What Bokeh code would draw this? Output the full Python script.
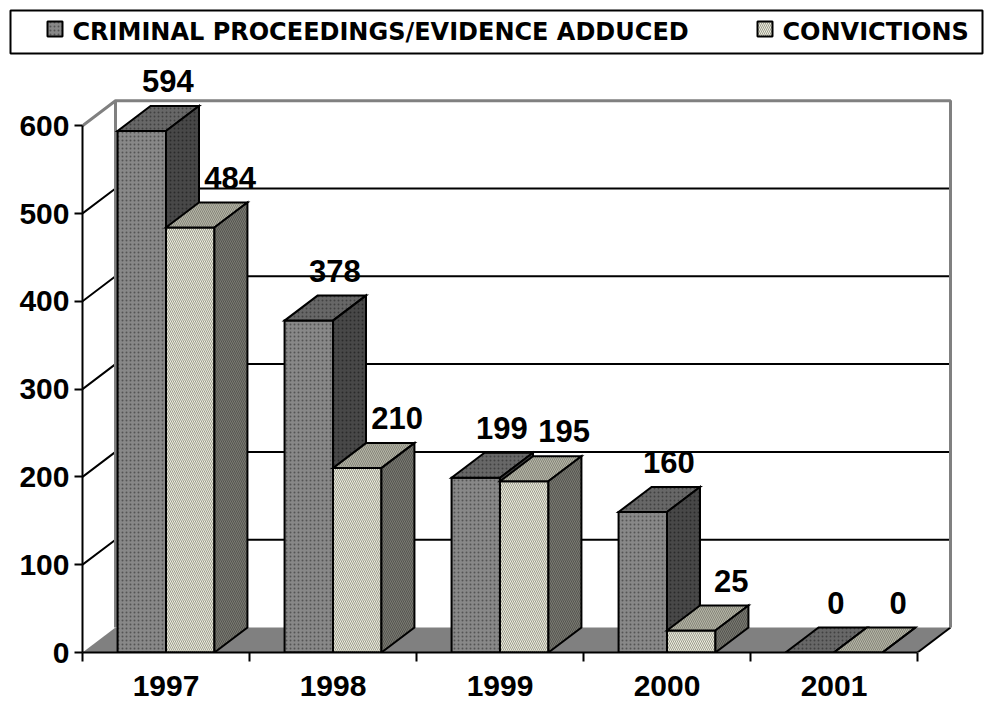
from bokeh.plotting import figure
from bokeh.layouts import column
from bokeh.models import ColumnDataSource, FixedTicker
from bokeh.core.properties import value
from bokeh.embed import file_html
from bokeh.resources import INLINE

# ---------------- data ----------------
years = ["1997", "1998", "1999", "2000", "2001"]
criminal = [594, 378, 199, 160, 0]
convictions = [484, 210, 195, 25, 0]
y_ticks = [0, 100, 200, 300, 400, 500, 600]
series_names = ["CRIMINAL PROCEEDINGS/EVIDENCE ADDUCED", "CONVICTIONS"]

# ---------------- layout constants ----------------
W = 984
LEG_H = 58
MAIN_H = 644
FRAME_W, FRAME_H = 870, 592
PX_PER_CAT = 167.0
PX_PER_UNIT = 0.878
DX = 33 / PX_PER_CAT          # depth offset in category units
DY = 25 / PX_PER_UNIT         # depth offset in value units
BAR_W = 0.29
GAP = 0.21
N = len(years)
Y_MAX = y_ticks[-1]
FONT = "Liberation Sans"
LABEL_LIFT_PX = 25            # gap between bar top and its value label anchor
LABEL_SHIFT_PX = [-7, 7]      # per-series horizontal label shift

styles = [
    dict(front=("#888888", "#545454", "dot"), top=("#676767", "#414141", "dot"),
         side=("#484848", "#2a2a2a", "dot")),
    dict(front=("#ededdf", "#9c9c8e", "left_diagonal_line"),
         top=("#b6b6a6", "#85857a", "left_diagonal_line"),
         side=("#7a7a72", "#555550", "left_diagonal_line")),
]

# ---------------- main chart ----------------
p = figure(width=W, height=MAIN_H, frame_width=FRAME_W, frame_height=FRAME_H,
           x_range=(0, FRAME_W / PX_PER_CAT), y_range=(0, FRAME_H / PX_PER_UNIT),
           output_backend="svg", toolbar_location=None,
           min_border_left=82, min_border_right=W - 82 - FRAME_W,
           min_border_top=2, min_border_bottom=MAIN_H - 2 - FRAME_H)
p.grid.visible = False
p.outline_line_color = None

# floor
p.patch([0, N, N + DX, DX], [0, 0, DY, DY], fill_color="#808080", line_color=None)
p.line([N, N + DX], [0, DY], line_color="black", line_width=2)

# walls / gridlines
grid_xs, grid_ys = [], []
for v in y_ticks[1:-1]:
    grid_xs.append([0, DX, N + DX])
    grid_ys.append([v, v + DY, v + DY])
p.multi_line(grid_xs, grid_ys, line_color="black", line_width=2)
p.multi_line([[0, DX, N + DX, N + DX], [DX, DX]],
             [[Y_MAX, Y_MAX + DY, Y_MAX + DY, DY], [DY, Y_MAX + DY]],
             line_color="#808080", line_width=3)

def faces(vals, s):
    fx, fy, tx, ty, sx, sy = [], [], [], [], [], []
    for c, v in enumerate(vals):
        x0 = c + GAP + s * BAR_W
        x1 = x0 + BAR_W
        fx.append([x0, x1, x1, x0]); fy.append([0, 0, v, v])
        tx.append([x0, x1, x1 + DX, x0 + DX]); ty.append([v, v, v + DY, v + DY])
        sx.append([x1, x1 + DX, x1 + DX, x1]); sy.append([0, DY, v + DY, v])
    return fx, fy, tx, ty, sx, sy

for s, vals in enumerate([criminal, convictions]):
    fx, fy, tx, ty, sx, sy = faces(vals, s)
    st = styles[s]
    for (xs, ys), key in zip([(fx, fy), (tx, ty), (sx, sy)], ["front", "top", "side"]):
        fc, hc, hp = st[key]
        p.patches(xs, ys, fill_color=fc, hatch_pattern=hp, hatch_color=hc,
                  hatch_scale=4, hatch_weight=1, line_color="black", line_width=2,
                  line_join="miter")

# value labels
lx, ly, lt = [], [], []
for s, vals in enumerate([criminal, convictions]):
    for c, v in enumerate(vals):
        lx.append(c + GAP + s * BAR_W + BAR_W / 2 + DX + LABEL_SHIFT_PX[s] / PX_PER_CAT)
        ly.append(v + DY + LABEL_LIFT_PX / PX_PER_UNIT)
        lt.append(str(v))
src = ColumnDataSource(dict(x=lx, y=ly, t=lt))
p.text(x="x", y="y", text="t", source=src, text_font=value(FONT), text_font_style="bold",
       text_font_size="31px", text_align="center", text_baseline="alphabetic",
       text_color="black")

# axes
ya = p.yaxis[0]
ya.ticker = FixedTicker(ticks=y_ticks)
ya.bounds = (0, Y_MAX)
ya.axis_line_width = 2
ya.major_tick_line_width = 2
ya.major_tick_out = 8
ya.major_tick_in = 0
ya.minor_tick_line_color = None
ya.major_label_standoff = 5
ya.major_label_text_font = FONT
ya.major_label_text_font_style = "bold"
ya.major_label_text_font_size = "30px"
ya.major_label_text_color = "black"

xa = p.xaxis[0]
centers = [i + 0.5 for i in range(N)]
xa.ticker = FixedTicker(ticks=centers, minor_ticks=list(range(N + 1)))
xa.major_label_overrides = {c: y for c, y in zip(centers, years)}
xa.bounds = (0, N)
xa.axis_line_width = 2
xa.major_tick_line_color = None
xa.major_tick_out = 0
xa.major_tick_in = 0
xa.minor_tick_line_color = "black"
xa.minor_tick_line_width = 2
xa.minor_tick_out = 9
xa.minor_tick_in = 0
xa.major_label_standoff = 14
xa.major_label_text_font = FONT
xa.major_label_text_font_style = "bold"
xa.major_label_text_font_size = "30px"
xa.major_label_text_color = "black"

# ---------------- legend strip (pixel-space figure) ----------------
lg = figure(width=W, height=LEG_H, x_range=(0, W), y_range=(0, LEG_H),
            output_backend="svg", toolbar_location=None,
            min_border=0, x_axis_type=None, y_axis_type=None)
lg.frame_align = False
lg.grid.visible = False
lg.outline_line_color = None
lg.quad(left=10, right=W - 2, bottom=5, top=48, fill_color=None,
        line_color="black", line_width=2)

ICON_X = [47, 757]
ICON = 15
ICON_BOTTOM = 22
TEXT_GAP = 10
for s in range(2):
    fc, hc, hp = styles[s]["front"]
    lg.quad(left=ICON_X[s], right=ICON_X[s] + ICON, bottom=ICON_BOTTOM,
            top=ICON_BOTTOM + ICON, fill_color=fc, hatch_pattern=hp, hatch_color=hc,
            hatch_scale=4, hatch_weight=1, line_color="black", line_width=2)
lsrc = ColumnDataSource(dict(x=[x + ICON + TEXT_GAP for x in ICON_X],
                             y=[ICON_BOTTOM + 5, ICON_BOTTOM + 5], t=series_names))
lg.text(x="x", y="y", text="t", source=lsrc, text_font=value("DejaVu Sans"),
        text_font_style="bold", text_font_size="24px", text_align="left",
        text_baseline="alphabetic", text_color="black")

layout = column(lg, p, spacing=0)
open("out.html", "w").write(file_html(layout, INLINE))
